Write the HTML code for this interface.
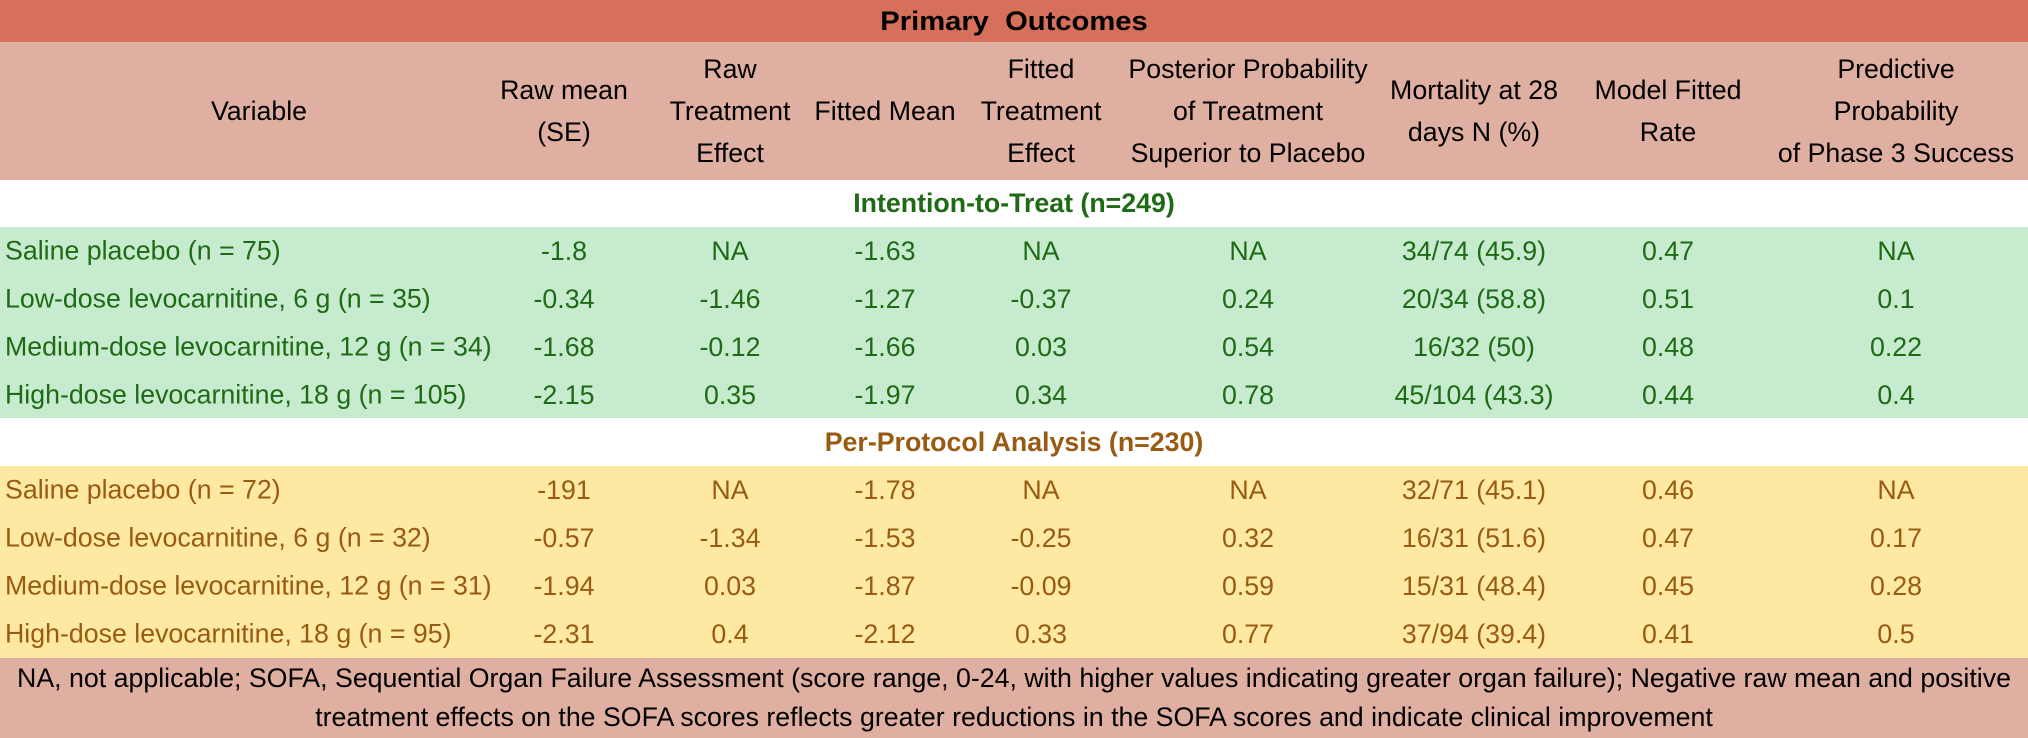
<!DOCTYPE html>
<html><head><meta charset="utf-8">
<style>
html,body{margin:0;padding:0;}
body{width:2028px;height:738px;position:relative;overflow:hidden;font-family:"Liberation Sans",sans-serif;background:#fff;}
.band{position:absolute;left:0;width:2028px;}
.c{position:absolute;white-space:nowrap;transform:translate(-50%,-50%) scaleX(0.99);font-size:27px;line-height:42px;text-align:center;}
.l{position:absolute;white-space:nowrap;transform:translateY(-50%) scaleX(0.99);transform-origin:left center;font-size:27px;}
.hdr{color:#000;}
.g{color:#1f6a14;}
.y{color:#995a12;}
</style></head>
<body>
<div class="band" style="top:0;height:42px;background:#D7705A;"></div>
<div class="band" style="top:42px;height:138px;background:#DFAFA2;"></div>
<div class="band" style="top:227px;height:191px;background:#C6EBCF;"></div>
<div class="band" style="top:466px;height:192px;background:#FDE9A1;"></div>
<div class="band" style="top:658px;height:80px;background:#DFAFA2;"></div>

<div class="c" style="left:1014px;top:21px;font-weight:bold;transform:translate(-50%,-50%) scaleX(1.08);">Primary&nbsp; Outcomes</div>
<div class="c" style="left:1014px;top:203px;font-weight:bold;color:#1f6a14;">Intention-to-Treat (n=249)</div>
<div class="c" style="left:1014px;top:442px;font-weight:bold;color:#995a12;">Per-Protocol Analysis (n=230)</div>

<div class="c" style="left:1014px;top:678px;">NA, not applicable; SOFA, Sequential Organ Failure Assessment (score range, 0-24, with higher values indicating greater organ failure); Negative raw mean and positive</div>
<div class="c" style="left:1014px;top:717px;">treatment effects on the SOFA scores reflects greater reductions in the SOFA scores and indicate clinical improvement</div>

<div id="root"></div>
<script>
const colX=[259,564,730,885,1041,1248,1474,1668,1896];
const headers=[["Variable"],["Raw mean","(SE)"],["Raw","Treatment","Effect"],["Fitted Mean"],["Fitted","Treatment","Effect"],["Posterior Probability","of Treatment","Superior to Placebo"],["Mortality at 28","days N (%)"],["Model Fitted","Rate"],["Predictive","Probability","of Phase 3 Success"]];
const ittRows=[
["Saline placebo (n = 75)","-1.8","NA","-1.63","NA","NA","34/74 (45.9)","0.47","NA"],
["Low-dose levocarnitine, 6 g (n = 35)","-0.34","-1.46","-1.27","-0.37","0.24","20/34 (58.8)","0.51","0.1"],
["Medium-dose levocarnitine, 12 g (n = 34)","-1.68","-0.12","-1.66","0.03","0.54","16/32 (50)","0.48","0.22"],
["High-dose levocarnitine, 18 g (n = 105)","-2.15","0.35","-1.97","0.34","0.78","45/104 (43.3)","0.44","0.4"]];
const ppRows=[
["Saline placebo (n = 72)","-191","NA","-1.78","NA","NA","32/71 (45.1)","0.46","NA"],
["Low-dose levocarnitine, 6 g (n = 32)","-0.57","-1.34","-1.53","-0.25","0.32","16/31 (51.6)","0.47","0.17"],
["Medium-dose levocarnitine, 12 g (n = 31)","-1.94","0.03","-1.87","-0.09","0.59","15/31 (48.4)","0.45","0.28"],
["High-dose levocarnitine, 18 g (n = 95)","-2.31","0.4","-2.12","0.33","0.77","37/94 (39.4)","0.41","0.5"]];
const root=document.getElementById('root');
headers.forEach((h,i)=>{
  const el=document.createElement('div');
  el.className='c hdr';
  
  
  el.style.left=colX[i]+'px';el.style.top='111px';
  el.innerHTML=h.join('<br>');
  root.appendChild(el);
});
function rows(data,top,cls){
  data.forEach((r,ri)=>{
    const cy=top+48*ri+24;
    r.forEach((v,ci)=>{
      const el=document.createElement('div');
      el.className=(ci===0?'l ':'c ')+cls;
      
      
      el.style.top=cy+'px';
      el.style.left=(ci===0?5:colX[ci])+'px';
      el.textContent=v;
      root.appendChild(el);
    });
  });
}
rows(ittRows,227,'g');
rows(ppRows,466,'y');
</script>
</body></html>
